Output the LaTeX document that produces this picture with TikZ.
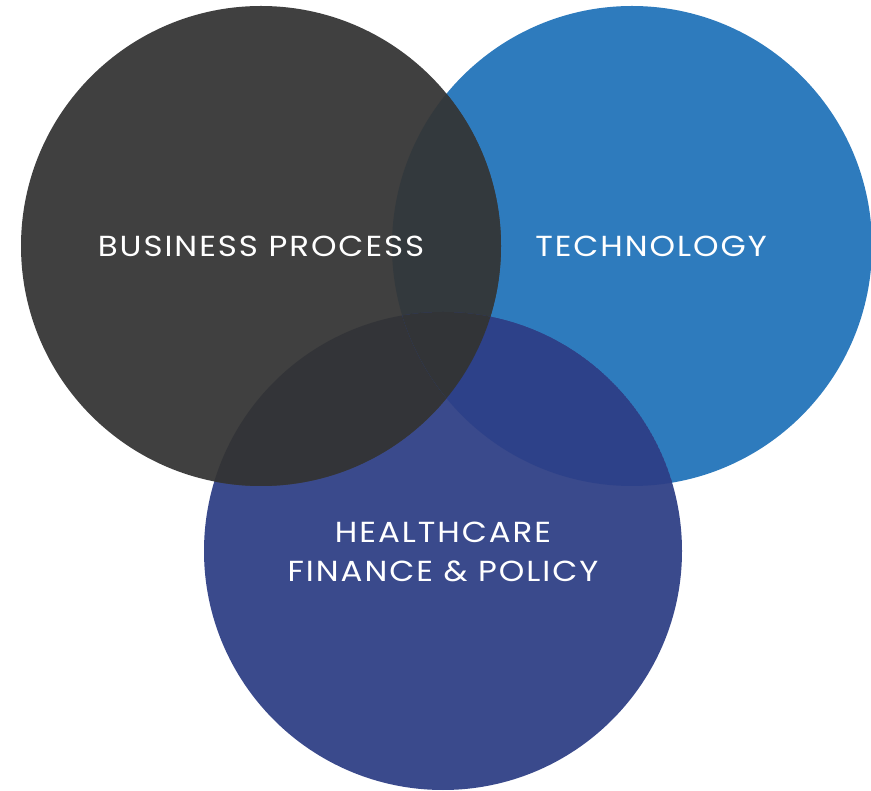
\documentclass[tikz,border=0pt]{standalone}
\usepackage{fontspec}
\setmainfont{Poppins}
\newfontfamily\vennfont[LetterSpace=6]{Poppins}
\definecolor{bpgrey}{HTML}{404040}
\definecolor{techblue}{HTML}{2E7BBD}
\definecolor{hcnavy}{HTML}{3A4A8C}
\definecolor{bptech}{HTML}{33393D}
\definecolor{bphc}{HTML}{333438}
\definecolor{techhc}{HTML}{2D4189}
\definecolor{allthree}{HTML}{323437}

\begin{document}
\begin{tikzpicture}[x=1pt,y=-1pt,
  vennlabel/.style={text=white,font=\vennfont\fontsize{29}{39}\selectfont,align=center,
    xscale=1.12,transform shape}]
\useasboundingbox (0,0) rectangle (871,791);
\coordinate (bp) at (261,246);
\coordinate (tech) at (632,246);
\coordinate (hc) at (443,551);
% circles
\fill[techblue] (tech) circle (240pt);
\fill[hcnavy] (hc) circle (239pt);
\fill[bpgrey] (bp) circle (240pt);
% overlaps
\begin{scope}
\clip (bp) circle (240pt);
\fill[bptech] (tech) circle (240pt);
\fill[bphc] (hc) circle (239pt);
\clip (tech) circle (240pt);
\fill[allthree] (hc) circle (239pt);
\end{scope}
\begin{scope}
\clip (tech) circle (240pt);
\clip (hc) circle (239pt);
\fill[techhc] (hc) circle (239pt);
\clip (bp) circle (240pt);
\fill[allthree] (hc) circle (239pt);
\end{scope}
% labels
\node[vennlabel] (bptext) at (bp) {BUSINESS PROCESS};
\node[vennlabel] (techtext) at (651,246) {TECHNOLOGY};
\node[vennlabel] (hctext) at (443,552) {HEALTHCARE\\FINANCE \& POLICY};
\end{tikzpicture}
\end{document}
